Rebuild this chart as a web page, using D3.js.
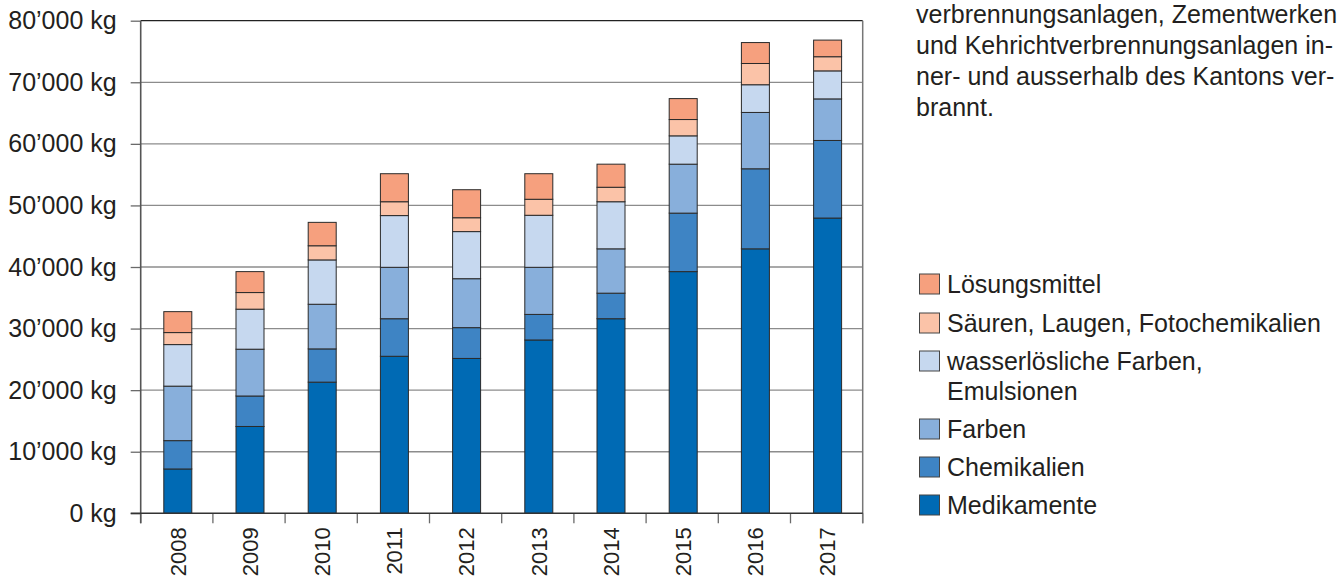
<!DOCTYPE html>
<html>
<head>
<meta charset="utf-8">
<script src="https://cdn.jsdelivr.net/npm/d3@7"></script>
<style>
  html, body { margin: 0; padding: 0; background: #fff; }
  svg { display: block; }
  text { font-family: "Liberation Sans", Arial, Helvetica, sans-serif; fill: #231f20; }
</style>
</head>
<body>
<svg id="chart" width="1343" height="578"></svg>
<script>
// ---- data ----
const years = ["2008", "2009", "2010", "2011", "2012", "2013", "2014", "2015", "2016", "2017"];
const medikamente    = [7200, 14100, 21300, 25500, 25150, 28150, 31600, 39250, 42950, 47950];
const chemikalien    = [4600, 4950, 5400, 6100, 5000, 4150, 4150, 9500, 13000, 12600];
const farben         = [8850, 7600, 7250, 8350, 7950, 7650, 7200, 7950, 9150, 6750];
const wasserloeslich = [6750, 6500, 7200, 8400, 7650, 8450, 7650, 4600, 4500, 4550];
const saeuren        = [1950, 2700, 2300, 2250, 2250, 2600, 2350, 2650, 3450, 2300];
const loesungsmittel = [3400, 3400, 3800, 4550, 4550, 4150, 3750, 3400, 3400, 2700];
const seriesNames = ["Medikamente", "Chemikalien", "Farben", "wasserlösliche Farben, Emulsionen", "Säuren, Laugen, Fotochemikalien", "Lösungsmittel"];
const seriesColors = ["#006ab4", "#3e84c4", "#88afdb", "#c6d8ef", "#fbc3a8", "#f6a07e"];
const yTicks = [0, 10000, 20000, 30000, 40000, 50000, 60000, 70000, 80000];
const noteLines = [
  "verbrennungsanlagen, Zementwerken",
  "und Kehrichtverbrennungsanlagen in-",
  "ner- und ausserhalb des Kantons ver-",
  "brannt."
];
const legendItems = [
  { idx: 5, lines: ["Lösungsmittel"] },
  { idx: 4, lines: ["Säuren, Laugen, Fotochemikalien"] },
  { idx: 3, lines: ["wasserlösliche Farben,", "Emulsionen"] },
  { idx: 2, lines: ["Farben"] },
  { idx: 1, lines: ["Chemikalien"] },
  { idx: 0, lines: ["Medikamente"] }
];

const seriesValues = [medikamente, chemikalien, farben, wasserloeslich, saeuren, loesungsmittel];
const table = years.map((yr, i) => {
  const row = { year: yr };
  seriesNames.forEach((n, k) => row[n] = seriesValues[k][i]);
  return row;
});
const stacked = d3.stack().keys(seriesNames)(table);

// ---- layout ----
const mLeft = 140.7, mRight = 862.7, mTop = 20.7, mBottom = 513.3;
const FS = 25;
const FS_YEAR = 22;
const svg = d3.select("#chart");

const x = d3.scaleBand().domain(years).range([mLeft, mRight]).padding(0);
const y = d3.scaleLinear().domain([0, 80000]).range([mBottom, mTop]);
const barW = 28;

const loc = d3.formatLocale({ decimal: ".", thousands: "’", grouping: [3], currency: ["", ""] });
const fmt = loc.format(",");

// gridlines
svg.append("g")
  .selectAll("line")
  .data(yTicks.filter(v => v > 0 && v < 80000))
  .join("line")
  .attr("x1", mLeft).attr("x2", mRight)
  .attr("y1", d => y(d)).attr("y2", d => y(d))
  .attr("stroke", "#8c8c8c").attr("stroke-width", 1.3);

// bars
const gBars = svg.append("g");
stacked.forEach((s, k) => {
  gBars.append("g")
    .selectAll("rect")
    .data(s)
    .join("rect")
    .attr("x", d => x(d.data.year) + x.bandwidth() / 2 - barW / 2 + 1)
    .attr("width", barW)
    .attr("y", d => y(d[1]))
    .attr("height", d => y(d[0]) - y(d[1]))
    .attr("fill", seriesColors[k])
    .attr("stroke", "#2a2a2a")
    .attr("stroke-width", 1);
});

// y axis
const yAxis = d3.axisLeft(y).tickValues(yTicks).tickSize(10).tickPadding(14)
  .tickFormat(d => fmt(d) + " kg");
const gy = svg.append("g").attr("transform", `translate(${mLeft},0)`).call(yAxis);
gy.select(".domain").remove();
gy.selectAll(".tick line").attr("stroke", "#6a6a6a").attr("stroke-width", 1.3);
gy.selectAll(".tick text").style("font-size", FS + "px").attr("fill", "#231f20");

// x axis labels
const xAxis = d3.axisBottom(x).tickSize(0).tickPadding(0);
const gx = svg.append("g").attr("transform", `translate(0,${mBottom})`).call(xAxis);
gx.select(".domain").remove();
gx.selectAll(".tick text")
  .style("font-size", FS_YEAR + "px")
  .attr("fill", "#231f20")
  .attr("transform", "rotate(-90)")
  .attr("text-anchor", "end")
  .attr("x", -14)
  .attr("y", 1)
  .attr("dy", "0.35em");

// x ticks at band boundaries
const boundaries = years.map(yr => x(yr)).concat([mRight]);
svg.append("g").selectAll("line").data(boundaries).join("line")
  .attr("x1", d => d).attr("x2", d => d)
  .attr("y1", mBottom).attr("y2", mBottom + 10)
  .attr("stroke", "#6a6a6a").attr("stroke-width", 1.3);

// frame
svg.append("line").attr("x1", mLeft).attr("x2", mRight).attr("y1", mTop).attr("y2", mTop)
  .attr("stroke", "#222").attr("stroke-width", 1.3);
svg.append("line").attr("x1", mRight).attr("x2", mRight).attr("y1", mTop).attr("y2", mBottom + 10)
  .attr("stroke", "#777").attr("stroke-width", 1.5);
svg.append("line").attr("x1", mLeft).attr("x2", mLeft).attr("y1", mTop).attr("y2", mBottom + 10)
  .attr("stroke", "#555").attr("stroke-width", 1.6);
svg.append("line").attr("x1", mLeft - 10).attr("x2", mRight).attr("y1", mBottom).attr("y2", mBottom)
  .attr("stroke", "#333").attr("stroke-width", 1.4);

// note text
svg.append("g").selectAll("text").data(noteLines).join("text")
  .attr("x", 916)
  .attr("y", (d, i) => 23 + i * 31)
  .style("font-size", FS + "px")
  .text(d => d);

// legend
const legendCenters = [284, 323, 361, 429, 467, 505];
const gl = svg.append("g");
legendItems.forEach((item, i) => {
  const cy = legendCenters[i];
  gl.append("rect")
    .attr("x", 919.5).attr("y", cy - 10)
    .attr("width", 20).attr("height", 20)
    .attr("fill", seriesColors[item.idx])
    .attr("stroke", "#444").attr("stroke-width", 1);
  item.lines.forEach((ln, j) => {
    gl.append("text")
      .attr("x", 947)
      .attr("y", cy + j * 30)
      .attr("dy", "0.35em")
      .style("font-size", FS + "px")
      .text(ln);
  });
});
</script>
</body>
</html>
